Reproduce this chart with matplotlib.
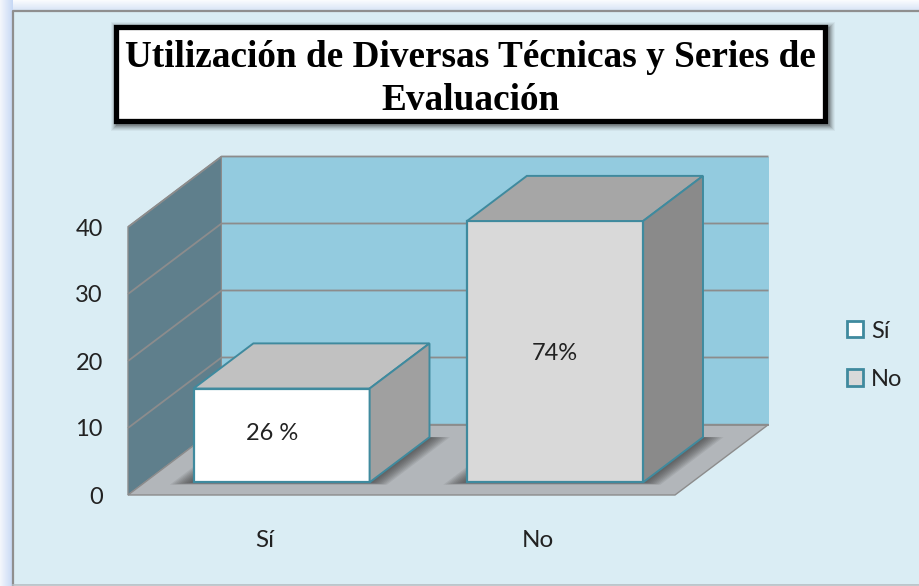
import numpy as np
import matplotlib
matplotlib.use('Agg')
import matplotlib.pyplot as plt
from matplotlib.patches import Rectangle, Patch

categories = ['Sí', 'No']
values = [14, 39]
pct_labels = ['26 %', '74%']
y_ticks = [0, 10, 20, 30, 40]
title = 'Utilización de Diversas Técnicas y Series de\nEvaluación'

front_colors = ['#ffffff', '#d9d9d9']
top_colors = ['#c1c1c1', '#a6a6a6']
side_colors = ['#a0a0a0', '#8a8a8a']
edge_color = '#3f8a9e'
grid_color = '#8c8c8c'
text_color = '#222222'

W, H = 919, 586
plt.rcParams['font.family'] = ['Lato', 'DejaVu Sans']
fig = plt.figure(figsize=(W / 100, H / 100), dpi=100)

# background layer in pixel coordinates (window frame, panel, title box)
bg = fig.add_axes([0, 0, 1, 1], zorder=0)
bg.axis('off')
bg.add_patch(Rectangle((0, 0), W, H, fc='white', ec='none'))
left_grad = np.linspace(0, 1, 32).reshape(1, -1)
top_grad = np.linspace(0, 1, 32).reshape(-1, 1)
cmap = matplotlib.colors.LinearSegmentedColormap.from_list('frame', ['#f4f7fc', '#c6d8f5'])
bg.imshow(top_grad, extent=(0, W, 11, 0), cmap=matplotlib.colors.LinearSegmentedColormap.from_list('t', ['#fbfcfe', '#d6e3f6']), aspect='auto', zorder=1)
bg.imshow(left_grad, extent=(0, 13, H, 0), cmap=cmap, aspect='auto', zorder=2)
bg.set_xlim(0, W)
bg.set_ylim(H, 0)
bg.add_patch(Rectangle((13, 10.5), W, 574.5, fc='#daedf4', ec='none', zorder=3))
bg.plot([13, 13, W], [H, 10.5, 10.5], color='#8f8f8f', lw=1.6, zorder=3)
bg.plot([13, W], [585, 585], color='#b5bfc4', lw=1.2, zorder=3)

# title box with soft shadow
for grow, alpha in [(5, 0.05), (4, 0.07), (3, 0.09), (2, 0.12), (1, 0.15), (0, 0.2)]:
    bg.add_patch(Rectangle((116 - grow, 27 - grow), 714 + 2 * grow, 99 + 2 * grow, fc='#303030', ec='none', alpha=alpha, zorder=4))
bg.add_patch(Rectangle((115.5, 26.5), 709, 94, fc='white', ec='black', lw=3.8, zorder=5))
bg.text(470.5, 79, title, family=['Liberation Serif'], fontweight='bold', fontsize=26.8, color='black',
        ha='center', va='center', linespacing=1.28, zorder=6)

# front plane of the chart, the depth goes up and to the right from it
ax = fig.add_axes([128 / W, (H - 495) / H, 547 / W, 268 / H], zorder=1)
ax.patch.set_visible(False)
ax.set_xlim(0, len(categories))
ax.set_ylim(0, 40)
for s in ax.spines.values():
    s.set_visible(False)
DX = 93.5 / (547 / len(categories))
DY = 70.5 / (268 / 40)


def proj(x, y, d):
    return x + d * DX, y + d * DY


def face(pts, **kw):
    xs, ys = zip(*[proj(*p) for p in pts])
    ax.fill(xs, ys, clip_on=False, **kw)


n = len(categories)
y_max = y_ticks[-1]
# walls and floor
face([(0, 0, 0), (0, 0, 1), (0, y_max, 1), (0, y_max, 0)], fc='#5f7f8c', ec=grid_color, lw=1, zorder=1)
face([(0, 0, 1), (n, 0, 1), (n, y_max, 1), (0, y_max, 1)], fc='#93cbdf', ec='none', zorder=1)
face([(0, 0, 0), (n, 0, 0), (n, 0, 1), (0, 0, 1)], fc='#b2b6ba', ec=grid_color, lw=1, zorder=2)
for t in y_ticks[1:]:
    xs, ys = zip(proj(0, t, 0), proj(0, t, 1), proj(n, t, 1))
    ax.plot(xs, ys, color=grid_color, lw=1.3, clip_on=False, zorder=2, solid_capstyle='butt')
xs, ys = zip(proj(0, 0, 1), proj(n, 0, 1))
ax.plot(xs, ys, color=grid_color, lw=1.3, clip_on=False, zorder=2, solid_capstyle='butt')

# bars
bar_w = 0.644
d0, d1 = 0.18, 0.82
for i, v in enumerate(values):
    x0 = i + 0.5 - bar_w / 2
    x1 = x0 + bar_w
    z = 3 + i * 2
    # shadow on the floor
    for k in range(1, 11):
        g = k * 0.0075
        face([(x0 - g, 0, d0 - g * 0.45), (x1 + g, 0, d0 - g * 0.45), (x1 + g, 0, d1), (x0 - g, 0, d1)],
             fc='#303030', ec='none', alpha=0.09, zorder=z)
    face([(x0, 0, d0), (x1, 0, d0), (x1, v, d0), (x0, v, d0)], fc=front_colors[i], ec=edge_color, lw=1.6, zorder=z + 1)
    face([(x0, v, d0), (x1, v, d0), (x1, v, d1), (x0, v, d1)], fc=top_colors[i], ec=edge_color, lw=1.4, zorder=z + 1)
    face([(x1, 0, d0), (x1, 0, d1), (x1, v, d1), (x1, v, d0)], fc=side_colors[i], ec=edge_color, lw=1.4, zorder=z + 1)
    lx, ly = proj(i + 0.5, v / 2, d0)
    ax.annotate(pct_labels[i], (lx, ly), xytext=(-7 if i == 0 else 0, 1.5 if i == 0 else -1.5), textcoords='offset points',
                ha='center', va='center', fontsize=17, color=text_color, zorder=z + 2)

ax.set_xticks([i + 0.5 for i in range(n)], categories)
ax.set_yticks(y_ticks)
ax.tick_params(axis='both', length=0, labelsize=17, labelcolor=text_color)
ax.tick_params(axis='y', pad=18)
ax.tick_params(axis='x', pad=25, labelsize=17.5)

handles = [Patch(fc=front_colors[i], ec=edge_color, lw=2, label=categories[i]) for i in range(n)]
ax.legend(handles=handles, loc='upper left', bbox_to_anchor=(830 / W, (H - 304) / H), bbox_transform=fig.transFigure,
          frameon=False, fontsize=17, handlelength=0.68, handleheight=0.68, handletextpad=0.35,
          labelspacing=1.15, borderpad=0.2, labelcolor=text_color)

fig.savefig('out.png', dpi=100)
